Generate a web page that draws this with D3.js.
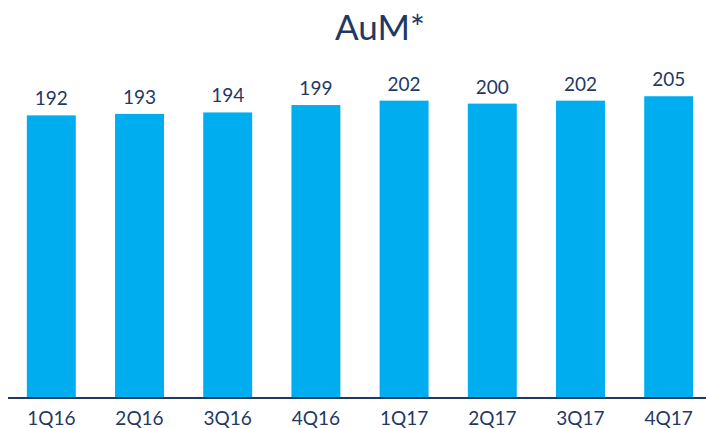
<!DOCTYPE html>
<html>
<head>
<meta charset="utf-8">
<script src="https://cdn.jsdelivr.net/npm/d3@7"></script>
<style>
  body { margin: 0; background: #fff; }
  text { font-family: Lato, "Open Sans", sans-serif; }
</style>
</head>
<body>
<svg width="706" height="428"></svg>
<script>
const quarters = ['1Q16', '2Q16', '3Q16', '4Q16', '1Q17', '2Q17', '3Q17', '4Q17'];
const aum = [192, 193, 194, 199, 202, 200, 202, 205];

const svg = d3.select('svg');
const width = +svg.attr('width');
const baseY = 398;

const navy = '#1f3864';
const barColor = '#00aeef';

const x = d3.scaleBand()
  .domain(quarters)
  .range([7, 713])
  .paddingInner(0.445)
  .paddingOuter(0.225);

const y = d3.scaleLinear()
  .domain([0, 250])
  .range([baseY, 30]);

// title
svg.append('text')
  .attr('x', 380)
  .attr('y', 40)
  .attr('text-anchor', 'middle')
  .attr('font-size', 35)
  .attr('fill', navy)
  .text('AuM*');

const data = quarters.map((q, i) => ({ q, v: aum[i] }));

svg.append('g').selectAll('rect')
  .data(data)
  .join('rect')
    .attr('x', d => x(d.q))
    .attr('y', d => y(d.v))
    .attr('width', x.bandwidth())
    .attr('height', d => baseY - y(d.v))
    .attr('fill', barColor);

svg.append('g').selectAll('text')
  .data(data)
  .join('text')
    .attr('x', d => x(d.q) + x.bandwidth() / 2)
    .attr('y', d => y(d.v) - 10)
    .attr('text-anchor', 'middle')
    .attr('font-size', 19)
    .attr('fill', navy)
    .text(d => d.v);

// baseline + category labels
const axis = d3.axisBottom(x).tickSize(0).tickPadding(14);
const axisG = svg.append('g')
  .attr('transform', `translate(0, ${baseY})`)
  .call(axis);
axisG.select('.domain').remove();
axisG.selectAll('text')
  .attr('font-size', 19)
  .attr('fill', navy)
  .attr('font-family', 'Lato, "Open Sans", sans-serif');

svg.append('line')
  .attr('x1', 8)
  .attr('x2', width)
  .attr('y1', baseY)
  .attr('y2', baseY)
  .attr('stroke', navy)
  .attr('stroke-width', 2);
</script>
</body>
</html>
